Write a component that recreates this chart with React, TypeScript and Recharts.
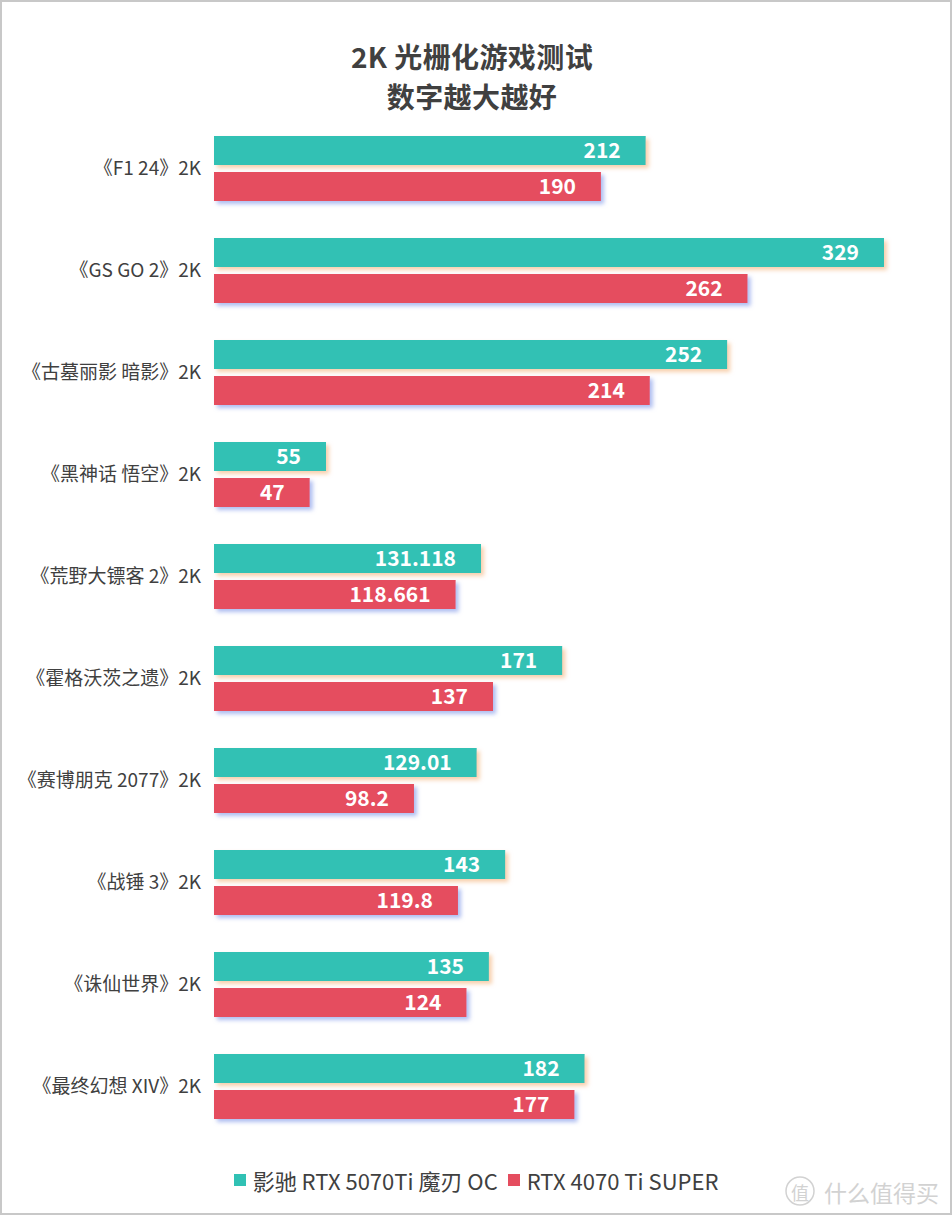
import React from "react";
import { BarChart, Bar, XAxis, YAxis, LabelList } from "recharts";

const games = [
  "《F1 24》2K",
  "《GS GO 2》2K",
  "《古墓丽影 暗影》2K",
  "《黑神话 悟空》2K",
  "《荒野大镖客 2》2K",
  "《霍格沃茨之遗》2K",
  "《赛博朋克 2077》2K",
  "《战锤 3》2K",
  "《诛仙世界》2K",
  "《最终幻想 XIV》2K",
];
const rtx5070ti = [212, 329, 252, 55, 131.118, 171, 129.01, 143, 135, 182];
const rtx4070tis = [190, 262, 214, 47, 118.661, 137, 98.2, 119.8, 124, 177];
const seriesNames = ["影驰 RTX 5070Ti 魔刃 OC", "RTX 4070 Ti SUPER"];
const titleLines = ["2K 光栅化游戏测试", "数字越大越好"];

const TEAL = "#31c1b4";
const RED = "#e54d5f";
const FONT = '"Noto Sans CJK SC", "Noto Sans", sans-serif';

const data = games.map((g, i) => ({ name: g, a: rtx5070ti[i], b: rtx4070tis[i] }));

const GameTick = (props: any) => {
  const { y, payload } = props;
  return (
    <text x={201} y={y - 2} textAnchor="end" dominantBaseline="central" fontSize={19} fill="#404040" fontFamily={FONT}>
      {payload.value}
    </text>
  );
};

const ValueLabel = (props: any) => {
  const { x, y, width, height, value } = props;
  return (
    <text
      x={x + width - 25}
      y={y + height / 2 - 2}
      textAnchor="end"
      dominantBaseline="central"
      fontSize={21}
      fontWeight="bold"
      fill="#ffffff"
      fontFamily={FONT}
    >
      {value}
    </text>
  );
};

const shadowBar = (id: string) => (props: any) => {
  const { x, y, width, height, fill } = props;
  return <rect x={x} y={y} width={width} height={height} fill={fill} filter={`url(#${id})`} />;
};

export default function App() {
  return (
    <div
      style={{
        position: "absolute",
        left: 0,
        top: 0,
        width: 952,
        height: 1215,
        background: "#fff",
        border: "2px solid #c8c8c8",
        boxSizing: "border-box",
        overflow: "hidden",
      }}
    >
      <svg style={{ position: "absolute", left: 0, top: 10 }} width={940} height={110}>
        {titleLines.map((t, i) => (
          <text
            key={t}
            x={470}
            y={56 + i * 40}
            textAnchor="middle"
            fontFamily={FONT}
            fontWeight="bold"
            fontSize={28}
            letterSpacing={0.4}
            fill="#404040"
          >
            {t}
          </text>
        ))}
      </svg>
      <div style={{ position: "absolute", left: -2, top: -2 }}>
        <BarChart
          width={952}
          height={1215}
          data={data}
          layout="vertical"
          margin={{ top: 117, right: 68, bottom: 78, left: 0 }}
          barSize={29}
          barGap={7}
        >
          <defs>
            <filter id="shT" x="-10%" y="-30%" width="130%" height="180%">
              <feDropShadow dx={3} dy={3} stdDeviation={2.2} floodColor="#f6c79e" floodOpacity={0.85} />
            </filter>
            <filter id="shR" x="-10%" y="-30%" width="130%" height="180%">
              <feDropShadow dx={3} dy={3} stdDeviation={2.2} floodColor="#9fb1ee" floodOpacity={0.85} />
            </filter>
          </defs>
          <XAxis type="number" hide domain={[0, "dataMax"]} />
          <YAxis type="category" dataKey="name" width={214} axisLine={false} tickLine={false} tick={<GameTick />} interval={0} />
          <Bar dataKey="a" name={seriesNames[0]} fill={TEAL} isAnimationActive={false} shape={shadowBar("shT")}>
            <LabelList dataKey="a" content={<ValueLabel />} />
          </Bar>
          <Bar dataKey="b" name={seriesNames[1]} fill={RED} isAnimationActive={false} shape={shadowBar("shR")}>
            <LabelList dataKey="b" content={<ValueLabel />} />
          </Bar>
        </BarChart>
      </div>
      <div
        style={{
          position: "absolute",
          left: 0,
          width: 948,
          top: 1163,
          height: 30,
          display: "flex",
          justifyContent: "center",
          alignItems: "center",
          fontFamily: FONT,
          fontSize: 22,
          color: "#404040",
        }}
      >
        {seriesNames.map((n, i) => (
          <div key={n} style={{ display: "flex", alignItems: "center", marginLeft: i ? 10 : 0 }}>
            <span style={{ width: 12, height: 12, background: i ? RED : TEAL, display: "inline-block", marginRight: 7 }} />
            <span>{n}</span>
          </div>
        ))}
      </div>
      <svg style={{ position: "absolute", left: 780, top: 1172 }} width={170} height={40}>
        <circle cx={18} cy={17} r={14} fill="none" stroke="#d2d2d2" strokeWidth={1.5} />
        <text x={18} y={18} textAnchor="middle" dominantBaseline="central" fontSize={18} fill="#d2d2d2" fontFamily={FONT}>
          值
        </text>
        <text x={42} y={18} dominantBaseline="central" fontSize={23} fill="#d2d2d2" fontFamily={FONT}>
          什么值得买
        </text>
      </svg>
    </div>
  );
}
